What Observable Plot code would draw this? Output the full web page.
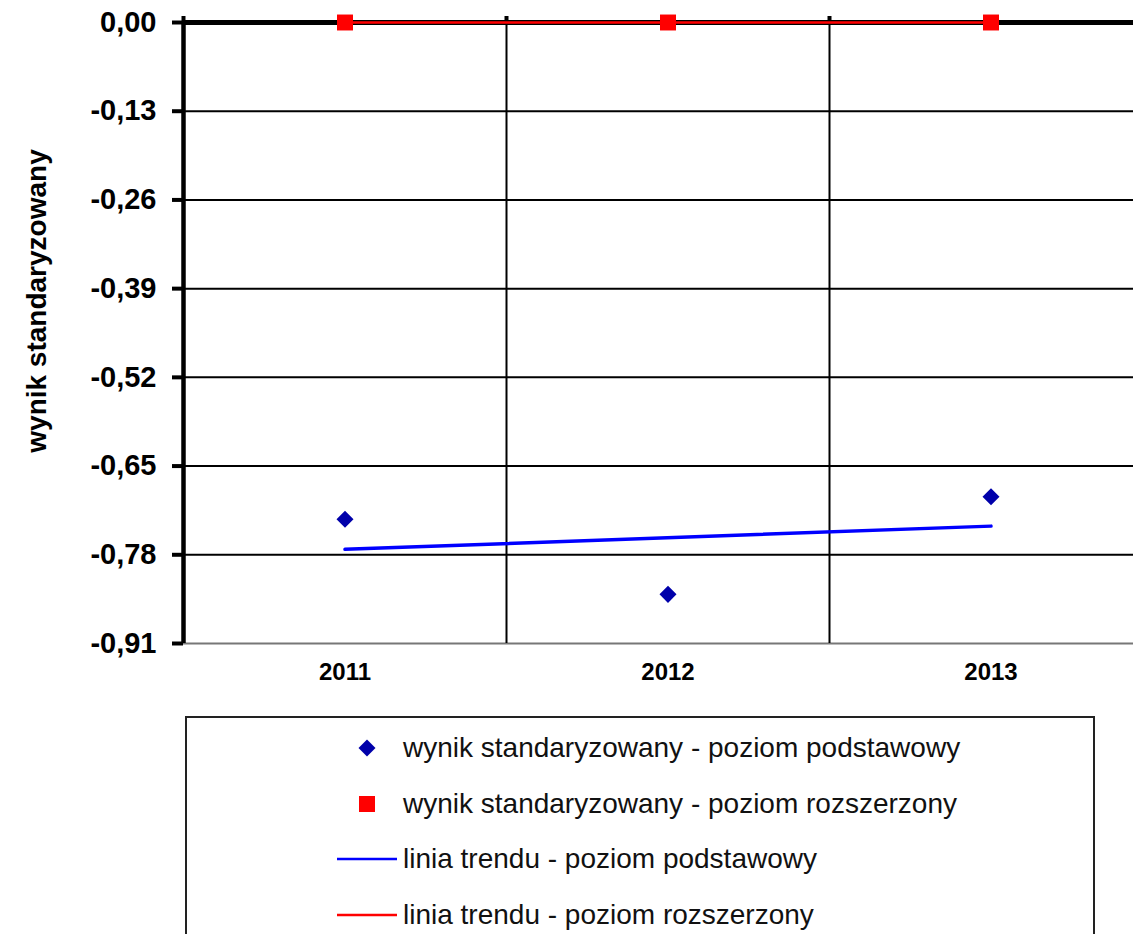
<!DOCTYPE html>
<html>
<head>
<meta charset="utf-8">
<script src="https://cdn.jsdelivr.net/npm/d3@7"></script>
<script src="https://cdn.jsdelivr.net/npm/@observablehq/plot@0.6"></script>
<style>
  html, body { margin: 0; padding: 0; background: #fff; overflow: hidden; width: 1133px; height: 934px; }
  #chart { position: absolute; left: 0; top: 0; }
  #legend { position: absolute; left: 185px; top: 716px; width: 910px; height: 260px; border: 2px solid #222; box-sizing: border-box; font-family: "Liberation Sans", Arial, sans-serif; font-size: 28px; color: #111; }
  .item { position: absolute; left: 0; height: 40px; }
  .item svg { position: absolute; left: 150px; top: 0; }
  .item span { position: absolute; left: 216px; top: 50%; transform: translateY(-50%); white-space: nowrap; line-height: 1; }
</style>
</head>
<body>
<div id="chart"></div>
<div id="legend"></div>
<script>
const years = [2011, 2012, 2013];
const basicScores = [-0.728, -0.838, -0.695];
const extendedScores = [0, 0, 0];
const trendYears = [2011, 2013];
const basicTrend = [-0.772, -0.738];
const extendedTrend = [0, 0];
const yTicks = [0, -0.13, -0.26, -0.39, -0.52, -0.65, -0.78, -0.91];
const categoryBounds = [2010.5, 2011.5, 2012.5, 2013.5];
const innerBounds = [2011.5, 2012.5];
const yTitle = "wynik standaryzowany";
const legendLabels = [
  "wynik standaryzowany - poziom podstawowy",
  "wynik standaryzowany - poziom rozszerzony",
  "linia trendu - poziom podstawowy",
  "linia trendu - poziom rozszerzony"
];

const rows = years.map((year, i) => ({year, basic: basicScores[i], ext: extendedScores[i]}));
const trendRows = trendYears.map((year, i) => ({year, basic: basicTrend[i], ext: extendedTrend[i]}));
const fmt = d => d.toFixed(2).replace(".", ",");

const chart = Plot.plot({
  width: 1133,
  height: 700,
  marginLeft: 183,
  marginRight: 0,
  marginTop: 22,
  marginBottom: 57,
  style: {fontFamily: "'Liberation Sans', Arial, sans-serif", color: "#000", background: "#fff"},
  x: {type: "linear", domain: [2010.5, 2013.5], range: [183, 1152]},
  y: {domain: [-0.91, 0], range: [643, 22]},
  marks: [
    Plot.ruleY(yTicks.filter(d => d !== 0 && d !== -0.91), {stroke: "#000", strokeWidth: 2}),
    Plot.ruleY([-0.91], {stroke: "#777", strokeWidth: 2}),
    Plot.ruleX(innerBounds, {y1: 0, y2: -0.91, stroke: "#000", strokeWidth: 2}),
    Plot.axisY({ticks: yTicks, tickFormat: fmt, tickSize: 11, tickPadding: 16, strokeWidth: 4, fontSize: 29, fontWeight: "bold", label: null}),
    Plot.axisX({anchor: "bottom", ticks: years, tickFormat: d => String(d), tickSize: 0, tickPadding: 19, fontSize: 24, fontWeight: "bold", label: null}),
    Plot.axisX({anchor: "top", ticks: categoryBounds, tickFormat: () => "", tickSize: 7, strokeWidth: 4, label: null}),
    Plot.ruleX([2010.5], {y1: 0, y2: -0.91, stroke: "#000", strokeWidth: 4.5}),
    Plot.ruleY([0], {stroke: "#000", strokeWidth: 5}),
    Plot.line(trendRows, {x: "year", y: "ext", stroke: "#ff0000", strokeWidth: 2.5}),
    Plot.line(trendRows, {x: "year", y: "basic", stroke: "#0000ff", strokeWidth: 3.5}),
    Plot.dot(rows, {x: "year", y: "basic", symbol: "square", r: 6.8, rotate: 45, fill: "#0000aa", stroke: "none"}),
    Plot.dot(rows, {x: "year", y: "ext", symbol: "square", r: 9, fill: "#ff0000", stroke: "none"}),
    Plot.text([yTitle], {frameAnchor: "left", textAnchor: "middle", dx: -146, dy: -32, rotate: -90, fontSize: 28, fontWeight: "bold", fill: "#000"})
  ]
});
document.getElementById("chart").appendChild(chart);

// legend
const legend = document.getElementById("legend");
const itemTops = [10, 66, 121, 177];
const markers = [
  '<rect x="24" y="14" width="12" height="12" fill="#0000aa" transform="rotate(45 30 20)"/>',
  '<rect x="22" y="12" width="16" height="16" fill="#ff0000"/>',
  '<line x1="0" x2="60" y1="20" y2="20" stroke="#0000ff" stroke-width="2.5"/>',
  '<line x1="0" x2="60" y1="20" y2="20" stroke="#ff0000" stroke-width="2.5"/>'
];
legendLabels.forEach((label, i) => {
  const item = document.createElement("div");
  item.className = "item";
  item.style.top = itemTops[i] + "px";
  item.style.width = "100%";
  item.innerHTML = `<svg width="60" height="40">${markers[i]}</svg><span>${label}</span>`;
  legend.appendChild(item);
});
</script>
</body>
</html>
